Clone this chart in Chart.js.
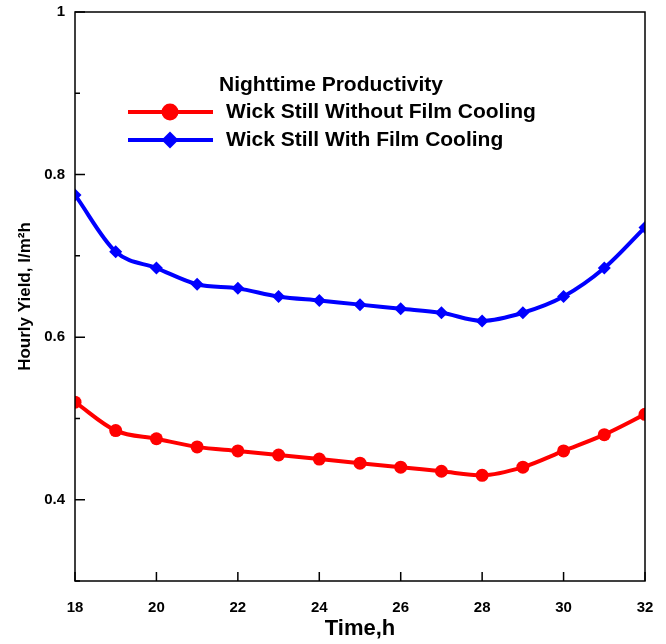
<!DOCTYPE html>
<html>
<head>
<meta charset="utf-8">
<script src="https://cdn.jsdelivr.net/npm/chart.js@4.4.1/dist/chart.umd.min.js"></script>
<style>
    html, body { margin: 0; padding: 0; background: #fff; }
    #wrap { width: 666px; height: 644px; }
</style>
</head>
<body>
<div id="wrap"><canvas id="yieldChart" width="666" height="644"></canvas></div>
<script>
const hours = [18, 19, 20, 21, 22, 23, 24, 25, 26, 27, 28, 29, 30, 31, 32];
const withoutCooling = [0.52, 0.485, 0.475, 0.465, 0.46, 0.455, 0.45, 0.445, 0.44, 0.435, 0.43, 0.44, 0.46, 0.48, 0.505];
const withCooling = [0.775, 0.705, 0.685, 0.665, 0.66, 0.65, 0.645, 0.64, 0.635, 0.63, 0.62, 0.63, 0.65, 0.685, 0.735];
const yLabelled = [0.4, 0.6, 0.8, 1];
const legendTitle = 'Nighttime Productivity';

const FONT = "'Liberation Sans', Arial, sans-serif";

// ticks point into the plot, with a frame on all four sides
const innerTicks = {
    id: 'innerTicks',
    afterDraw(chart) {
        const ctx = chart.ctx;
        const area = chart.chartArea;
        const x = chart.scales.x;
        const y = chart.scales.y;
        ctx.save();
        ctx.strokeStyle = '#000';
        ctx.lineWidth = 1.5;
        ctx.strokeRect(area.left, area.top, area.right - area.left, area.bottom - area.top);
        ctx.beginPath();
        x.ticks.forEach(t => {
            const px = x.getPixelForValue(t.value);
            ctx.moveTo(px, area.bottom);
            ctx.lineTo(px, area.bottom - 9);
        });
        y.ticks.forEach(t => {
            const py = y.getPixelForValue(t.value);
            const major = yLabelled.some(v => Math.abs(v - t.value) < 1e-6);
            ctx.moveTo(area.left, py);
            ctx.lineTo(area.left + (major ? 10 : 5), py);
        });
        ctx.stroke();
        ctx.restore();
    }
};

// legend block inside the plot
const boxLegend = {
    id: 'boxLegend',
    afterDatasetsDraw(chart) {
        const ctx = chart.ctx;
        ctx.save();
        ctx.font = 'bold 21px ' + FONT;
        ctx.fillStyle = '#000';
        ctx.textBaseline = 'middle';
        ctx.textAlign = 'left';
        ctx.fillText(legendTitle, 219, 85);
        chart.data.datasets.forEach((ds, i) => {
            const yy = 112 + i * 28;
            ctx.strokeStyle = ds.borderColor;
            ctx.lineWidth = 4;
            ctx.beginPath();
            ctx.moveTo(128, yy);
            ctx.lineTo(213, yy);
            ctx.stroke();
            ctx.fillStyle = ds.backgroundColor;
            Chart.helpers.drawPoint(ctx, {
                pointStyle: ds.pointStyle,
                radius: 8.5,
                borderWidth: 0
            }, 170, yy);
            ctx.fillStyle = '#000';
            ctx.fillText(ds.label, 226, yy);
        });
        ctx.restore();
    }
};

const ctx = document.getElementById('yieldChart').getContext('2d');
const yieldChart = new Chart(ctx, {
    type: 'line',
    data: {
        datasets: [{
            label: 'Wick Still Without Film Cooling',
            data: hours.map((h, i) => ({ x: h, y: withoutCooling[i] })),
            borderColor: '#ff0000',
            backgroundColor: '#ff0000',
            pointStyle: 'circle',
            pointRadius: 6.5,
            pointBorderWidth: 0,
            borderWidth: 4,
            cubicInterpolationMode: 'monotone',
        }, {
            label: 'Wick Still With Film Cooling',
            data: hours.map((h, i) => ({ x: h, y: withCooling[i] })),
            borderColor: '#0000ff',
            backgroundColor: '#0000ff',
            pointStyle: 'rectRot',
            pointRadius: 6.5,
            pointBorderWidth: 0,
            borderWidth: 4,
            cubicInterpolationMode: 'monotone',
        }],
    },
    options: {
        responsive: false,
        animation: false,
        layout: { padding: { top: 12, right: 21, left: 0, bottom: 0 } },
        plugins: {
            legend: { display: false },
            tooltip: { enabled: false },
        },
        scales: {
            x: {
                type: 'linear',
                min: 18,
                max: 32,
                grid: { display: false, drawTicks: false },
                border: { display: false },
                afterFit: s => {
                    s.height = 63;
                    s.paddingLeft = 0;
                    s.paddingRight = 0;
                },
                ticks: {
                    stepSize: 2,
                    padding: 18,
                    color: '#000',
                    font: { family: FONT, size: 15, weight: 'bold' },
                },
                title: {
                    display: true,
                    text: 'Time,h',
                    color: '#000',
                    padding: { top: 0, bottom: 2 },
                    font: { family: FONT, size: 22, weight: 'bold' },
                },
            },
            y: {
                min: 0.3,
                max: 1,
                grid: { display: false, drawTicks: false },
                border: { display: false },
                afterFit: s => {
                    s.width = 75;
                    s.paddingTop = 0;
                    s.paddingBottom = 0;
                },
                ticks: {
                    stepSize: 0.1,
                    padding: 10,
                    color: '#000',
                    font: { family: FONT, size: 15, weight: 'bold' },
                    callback: v => yLabelled.some(l => Math.abs(l - v) < 1e-6) ? String(+v.toFixed(1)) : '',
                },
                title: {
                    display: true,
                    text: 'Hourly Yield, l/m²h',
                    color: '#000',
                    padding: { top: 15, bottom: 0 },
                    font: { family: FONT, size: 17, weight: 'bold' },
                },
            },
        },
    },
    plugins: [innerTicks, boxLegend],
});
</script>
</body>
</html>
